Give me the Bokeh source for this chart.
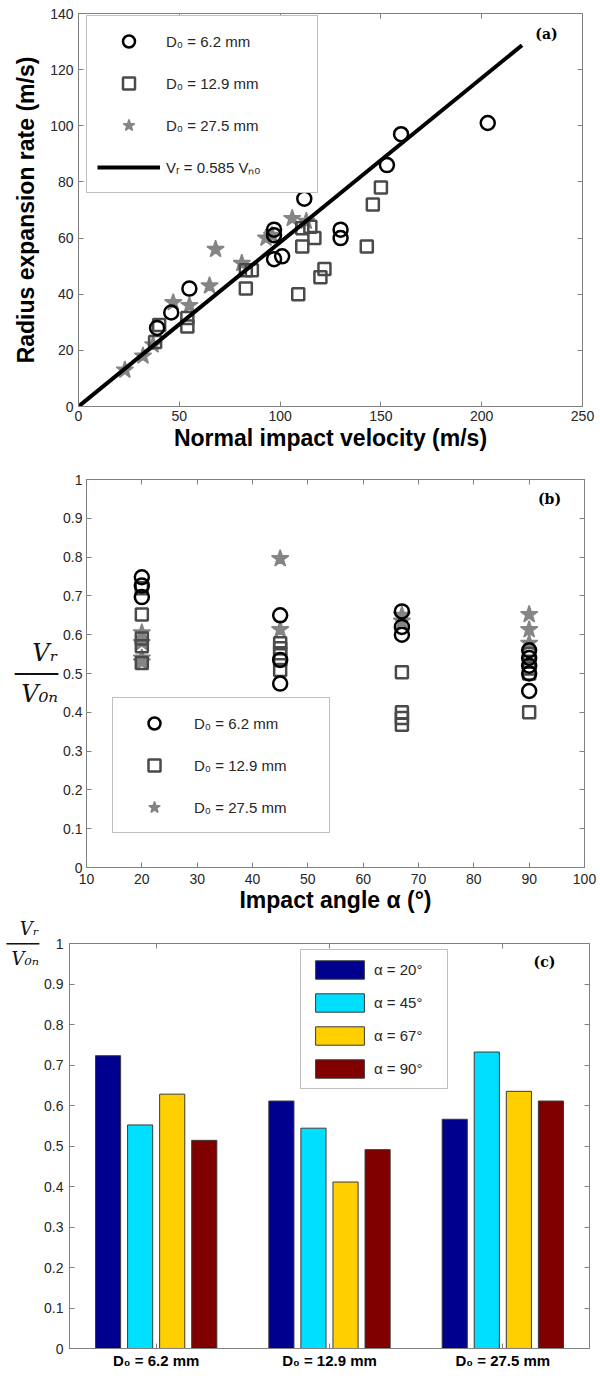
from bokeh.plotting import figure
from bokeh.layouts import column
from bokeh.models import (LinearAxis, Legend, LegendItem, Label, FixedTicker,
                          Range1d, CustomLabelingPolicy)
from bokeh.embed import file_html
from bokeh.resources import INLINE

# ---------------- data: panel (a) ----------------
a_circ_v = [39, 46, 55, 97, 97, 97, 101, 112, 130, 130, 153, 160, 203]
a_circ_r = [28, 33.5, 42, 61, 63, 52.5, 53.5, 74, 63, 60, 86, 97, 101]
a_sq_v = [38, 40, 54, 54, 83, 83, 86, 109, 111, 111, 115, 117, 120, 122, 143, 146, 150]
a_sq_r = [23, 29, 28.5, 31.5, 42, 48.5, 48.5, 40, 57, 63.5, 64, 60, 46, 49, 57, 72, 78]
a_star_v = [23, 32, 37, 47, 55, 65, 68, 81, 93, 96, 106, 113]
a_star_r = [13, 18, 22, 37, 36, 43, 56, 51, 60, 61, 67, 66]
fit_v = [0, 220]
fit_r = [0, 128.7]
a_xticks = [0, 50, 100, 150, 200, 250]
a_yticks = [0, 20, 40, 60, 80, 100, 120, 140]

# ---------------- data: panel (b) ----------------
b_circ_x = [20, 20, 20, 45, 45, 45, 67, 67, 67, 90, 90, 90, 90, 90]
b_circ_y = [0.748, 0.727, 0.697, 0.65, 0.535, 0.474, 0.66, 0.62, 0.60, 0.56, 0.54, 0.52, 0.50, 0.455]
b_sq_x = [20, 20, 20, 20, 20, 45, 45, 45, 45, 45, 67, 67, 67, 67, 90, 90, 90, 90, 90]
b_sq_y = [0.72, 0.652, 0.59, 0.57, 0.527, 0.578, 0.565, 0.552, 0.535, 0.509,
          0.503, 0.40, 0.385, 0.368, 0.55, 0.53, 0.513, 0.50, 0.40]
b_star_x = [20, 20, 20, 20, 45, 45, 67, 67, 90, 90, 90]
b_star_y = [0.605, 0.58, 0.54, 0.53, 0.796, 0.613, 0.65, 0.635, 0.652, 0.613, 0.578]
b_xticks = [10, 20, 30, 40, 50, 60, 70, 80, 90, 100]
ratio_ticks = [0, 0.1, 0.2, 0.3, 0.4, 0.5, 0.6, 0.7, 0.8, 0.9, 1]
ratio_label = "Vᵣ\n───\nV₀ₙ"

# ---------------- data: panel (c) ----------------
c_groups = ["D₀ = 6.2 mm", "D₀ = 12.9 mm", "D₀ = 27.5 mm"]
c_series = ["α = 20°", "α = 45°", "α = 67°", "α = 90°"]
c_values = [
    [0.723, 0.611, 0.566],   # alpha 20
    [0.552, 0.544, 0.732],   # alpha 45
    [0.628, 0.411, 0.635],   # alpha 67
    [0.514, 0.491, 0.611],   # alpha 90
]
c_colors = ["#00008F", "#00DFFF", "#FFCF00", "#800000"]
c_offsets = [-0.2775, -0.0925, 0.0925, 0.2775]
c_bar_width = 0.145

GRAY = "#808080"
TXT = "#262626"
SANS = "Liberation Sans"
SERIF = "DejaVu Serif"


def make_fig(w, h, xr, yr, bl, br, bt, bb):
    p = figure(width=w, height=h, x_range=Range1d(*xr), y_range=Range1d(*yr),
               output_backend="svg", toolbar_location=None,
               min_border_left=bl, min_border_right=br,
               min_border_top=bt, min_border_bottom=bb)
    if "frame_align" in p.properties():
        p.frame_align = False
    p.grid.visible = False
    p.outline_line_color = GRAY
    p.outline_line_width = 1
    p.background_fill_color = "white"
    p.border_fill_color = "white"
    return p


def style_axis(ax, ticks, font_size="14px"):
    ax.ticker = FixedTicker(ticks=ticks)
    ax.axis_line_color = GRAY
    ax.major_tick_line_color = GRAY
    ax.major_tick_in = 5
    ax.major_tick_out = 0
    ax.minor_tick_line_color = None
    ax.major_label_text_font = SANS
    ax.major_label_text_font_size = font_size
    ax.major_label_text_color = TXT
    ax.axis_label_text_font = SANS
    ax.axis_label_text_font_style = "bold"
    ax.axis_label_text_font_size = "23px"
    ax.axis_label_text_color = "black"


def add_box_axes(p, xticks, yticks):
    for loc, ticks in (("above", xticks), ("right", yticks)):
        ax = LinearAxis()
        style_axis(ax, ticks, "1px")
        ax.major_label_standoff = 0
        ax.major_label_policy = CustomLabelingPolicy(code="return new Set()")
        p.add_layout(ax, loc)


def panel_tag(p, text, x, y):
    p.add_layout(Label(x=x, y=y, x_units="screen", y_units="screen", text=text,
                       text_font=SERIF, text_font_style="bold", text_font_size="14px",
                       text_color="black", text_align="center", text_baseline="middle"))


def fraction_label(ax, size, align_end=False):
    ax.axis_label = ratio_label
    ax.axis_label_text_font = SERIF
    ax.axis_label_text_font_style = "italic"
    ax.axis_label_text_font_size = f"{size}px"
    ax.axis_label_text_color = "#111111"
    ax.axis_label_text_line_height = 0.72
    ax.axis_label_standoff = 2
    props = ax.properties()
    if "axis_label_orientation" in props:
        ax.axis_label_orientation = "horizontal"
    if align_end and "axis_label_align" in props:
        ax.axis_label_align = "end"


# ================= panel (a) =================
pa = make_fig(600, 466, (0, 250), (0, 140), 78, 18, 13, 60)
style_axis(pa.xaxis[0], a_xticks)
style_axis(pa.yaxis[0], a_yticks)
pa.xaxis[0].axis_label = "Normal impact velocity (m/s)"
pa.yaxis[0].axis_label = "Radius expansion rate (m/s)"
pa.xaxis[0].major_label_standoff = 4
pa.xaxis[0].axis_label_standoff = 1
pa.yaxis[0].major_label_standoff = 5
pa.yaxis[0].axis_label_standoff = 8
add_box_axes(pa, a_xticks, a_yticks)

ra_star = pa.scatter(a_star_v, a_star_r, marker="star", size=18,
                     fill_color="#858585", line_color="#858585", line_width=1.5)
ra_sq = pa.scatter(a_sq_v, a_sq_r, marker="square", size=12, fill_color=None,
                   line_color="#4a4a4a", line_width=2.5)
ra_circ = pa.scatter(a_circ_v, a_circ_r, marker="circle", size=14, fill_color=None,
                     line_color="black", line_width=2.5)
ra_fit = pa.line(fit_v, fit_r, line_color="black", line_width=4)

leg_a = Legend(items=[LegendItem(label="D₀ = 6.2 mm", renderers=[ra_circ]),
                      LegendItem(label="D₀ = 12.9 mm", renderers=[ra_sq]),
                      LegendItem(label="D₀ = 27.5 mm", renderers=[ra_star]),
                      LegendItem(label="Vᵣ = 0.585 Vₙₒ", renderers=[ra_fit])],
               location=(8, 213), glyph_width=63, glyph_height=30, spacing=12,
               padding=10, margin=0, label_standoff=6, label_width=141,
               label_text_font=SANS, label_text_font_size="15px", label_text_color=TXT,
               border_line_color=GRAY, border_line_width=1, background_fill_alpha=1)
pa.add_layout(leg_a)
panel_tag(pa, "(a)", 468, 373)

# ================= panel (b) =================
pb = make_fig(600, 451, (10, 100), (0, 1), 86, 16, 13, 50)
style_axis(pb.xaxis[0], b_xticks)
style_axis(pb.yaxis[0], ratio_ticks)
pb.yaxis[0].major_label_overrides = {0: "0", 1: "1"}
pb.xaxis[0].axis_label = "Impact angle α (°)"
pb.xaxis[0].major_label_standoff = 6
pb.xaxis[0].axis_label_standoff = 0
pb.yaxis[0].major_label_standoff = 4
fraction_label(pb.yaxis[0], 24)
add_box_axes(pb, b_xticks, ratio_ticks)

rb_star = pb.scatter(b_star_x, b_star_y, marker="star", size=18,
                     fill_color="#858585", line_color="#858585", line_width=1.5)
rb_sq = pb.scatter(b_sq_x, b_sq_y, marker="square", size=12, fill_color=None,
                   line_color="#4a4a4a", line_width=2.5)
rb_circ = pb.scatter(b_circ_x, b_circ_y, marker="circle", size=14, fill_color=None,
                     line_color="black", line_width=2.5)
leg_b = Legend(items=[LegendItem(label="D₀ = 6.2 mm", renderers=[rb_circ]),
                      LegendItem(label="D₀ = 12.9 mm", renderers=[rb_sq]),
                      LegendItem(label="D₀ = 27.5 mm", renderers=[rb_star])],
               location=(26, 34), glyph_width=62, glyph_height=30, spacing=12,
               padding=10, margin=0, label_standoff=9, label_width=125,
               label_text_font=SANS, label_text_font_size="15px", label_text_color=TXT,
               border_line_color=GRAY, border_line_width=1, background_fill_alpha=1)
pb.add_layout(leg_b)
panel_tag(pb, "(b)", 463, 369)

# ================= panel (c) =================
pc = make_fig(600, 454, (0.5, 3.5), (0, 1), 69, 11, 26, 22)
style_axis(pc.xaxis[0], [1, 2, 3], "15px")
style_axis(pc.yaxis[0], ratio_ticks)
pc.yaxis[0].major_label_overrides = {0: "0", 1: "1"}
pc.xaxis[0].major_label_overrides = {i + 1: g for i, g in enumerate(c_groups)}
pc.xaxis[0].major_label_text_font_style = "bold"
pc.xaxis[0].major_label_text_color = "black"
pc.xaxis[0].major_label_standoff = 3
pc.yaxis[0].major_label_standoff = 6
fraction_label(pc.yaxis[0], 18, align_end=True)
add_box_axes(pc, [1, 2, 3], ratio_ticks)

c_items = []
for k, name in enumerate(c_series):
    xs = [g + 1 + c_offsets[k] for g in range(len(c_groups))]
    r = pc.vbar(x=xs, top=c_values[k], bottom=0, width=c_bar_width,
                fill_color=c_colors[k], line_color="#3a3a3a", line_width=1)
    c_items.append(LegendItem(label=name, renderers=[r]))
leg_c = Legend(items=c_items, location=(231, 259), glyph_width=61, glyph_height=23,
               spacing=10, padding=8, margin=0, label_standoff=4, label_width=65,
               label_text_font=SANS, label_text_font_size="15px", label_text_color=TXT,
               border_line_color=GRAY, border_line_width=1, background_fill_alpha=1)
pc.add_layout(leg_c)
panel_tag(pc, "(c)", 475, 387)

layout = column(pa, pb, pc, spacing=0)
open("out.html", "w").write(file_html(layout, INLINE))
